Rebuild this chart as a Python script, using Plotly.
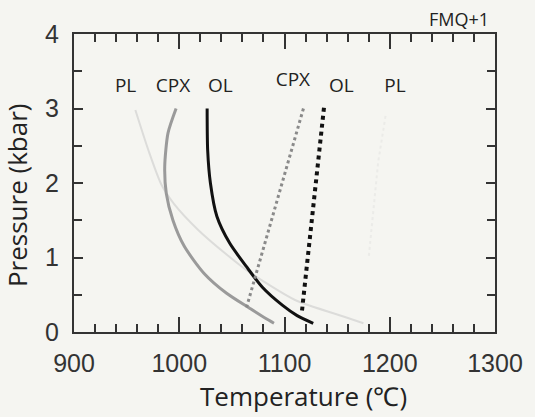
import plotly.graph_objects as go

# Data
pl_T = [958.3, 970.7, 983, 995, 1018, 1045, 1065, 1110, 1156.7, 1175]
pl_P = [2.98, 2.44, 1.98, 1.72, 1.37, 1.04, 0.82, 0.43, 0.205, 0.117]

cpx_T = [997, 989.3, 986.2, 987.7, 994, 1004.8, 1023.4, 1045, 1066.8, 1082.3, 1090]
cpx_P = [3.0, 2.67, 2.22, 1.86, 1.50, 1.15, 0.79, 0.52, 0.32, 0.18, 0.117]

ol_T = [1026.5, 1027, 1029.6, 1035.8, 1048, 1063.7, 1079, 1097.9, 1112, 1127.3]
ol_P = [3.0, 2.44, 2.0, 1.55, 1.19, 0.88, 0.60, 0.36, 0.22, 0.117]

cpx_dot_T = [1118, 1063.7]
cpx_dot_P = [3.0, 0.32]

ol_dot_T = [1137.5, 1116.5]
ol_dot_P = [3.01, 0.27]

pl_dot_T = [1196, 1189, 1180]
pl_dot_P = [2.9, 2.28, 1.0]

label_text = ["PL", "CPX", "OL", "CPX", "OL", "PL"]
label_T = [949, 994, 1039, 1108, 1154, 1205]
label_P = [3.29, 3.29, 3.29, 3.36, 3.29, 3.29]

bg = "#f5f5f1"
ink = "#333333"

fig = go.Figure()
fig.add_trace(go.Scatter(x=pl_T, y=pl_P, mode="lines", line=dict(color="#dcdcda", width=2, shape="spline", smoothing=0.7)))
fig.add_trace(go.Scatter(x=pl_dot_T, y=pl_dot_P, mode="lines", line=dict(color="#ebebe8", width=2, dash="dot")))
fig.add_trace(go.Scatter(x=cpx_T, y=cpx_P, mode="lines", line=dict(color="#9a9a9a", width=3, shape="spline", smoothing=0.7)))
fig.add_trace(go.Scatter(x=ol_T, y=ol_P, mode="lines", line=dict(color="#111111", width=3, shape="spline", smoothing=0.7)))
fig.add_trace(go.Scatter(x=cpx_dot_T, y=cpx_dot_P, mode="lines", line=dict(color="#8a8a8a", width=3, dash="dot")))
fig.add_trace(go.Scatter(x=ol_dot_T, y=ol_dot_P, mode="lines", line=dict(color="#111111", width=4, dash="dot")))
fig.add_trace(go.Scatter(x=label_T, y=label_P, mode="text", text=label_text,
                         textfont=dict(family="Open Sans", size=19, color="#222222")))

axis_common = dict(
    showgrid=False, zeroline=False, showline=True, linecolor=ink, linewidth=2,
    mirror="allticks", ticks="inside", tickcolor=ink, tickwidth=2,
    tickfont=dict(family="Liberation Sans", size=25, color=ink),
    ticklabelstandoff=8,
)

fig.update_xaxes(range=[900, 1300], dtick=100, ticklen=15,
                 minor=dict(dtick=20, ticklen=8, ticks="inside", tickcolor=ink, tickwidth=2),
                 **axis_common)
fig.update_yaxes(range=[0, 4], dtick=1, ticklen=9,
                 minor=dict(dtick=0.5, ticklen=8, ticks="inside", tickcolor=ink, tickwidth=2),
                 **axis_common)

fig.add_annotation(text="Temperature (℃)", xref="paper", yref="paper", x=0.545, y=-0.215,
                   xanchor="center", yanchor="middle", showarrow=False,
                   font=dict(family="Open Sans", size=26, color="#222222"))
fig.add_annotation(text="Pressure (kbar)", xref="paper", yref="paper", x=-0.135, y=0.46,
                   xanchor="center", yanchor="middle", showarrow=False, textangle=-90,
                   font=dict(family="Open Sans", size=26, color="#222222"))
fig.add_annotation(text="FMQ+1", xref="paper", yref="paper", x=0.915, y=1.05,
                   xanchor="center", yanchor="middle", showarrow=False,
                   font=dict(family="Open Sans", size=18, color="#222222"))

fig.update_layout(
    width=535, height=417, showlegend=False,
    margin=dict(l=74, r=33, t=34, b=85),
    paper_bgcolor=bg, plot_bgcolor=bg,
)

fig.write_html("out.html")
